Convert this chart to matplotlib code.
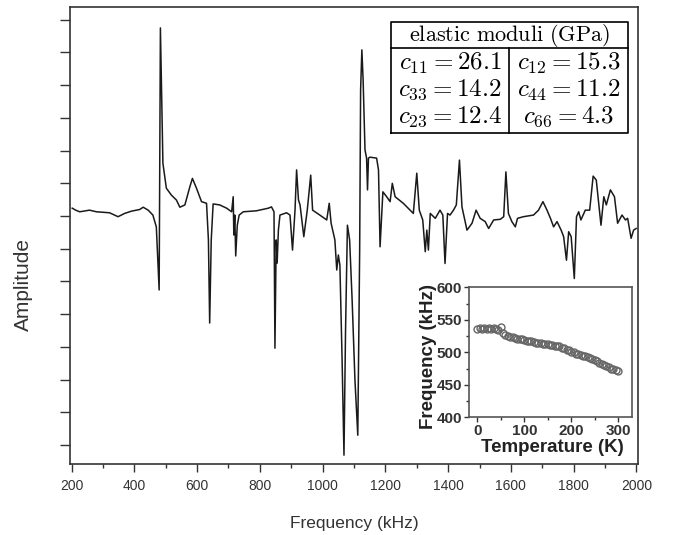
import matplotlib
matplotlib.use('Agg')
import matplotlib.pyplot as plt
from matplotlib.ticker import MultipleLocator, NullFormatter

plt.rcParams['font.family'] = ['Liberation Sans', 'DejaVu Sans']
plt.rcParams['mathtext.fontset'] = 'cm'

# spectrum (kHz, arbitrary amplitude)
freq = [202, 213, 226, 257, 279, 321, 348, 369, 391, 417, 428, 444, 459, 470, 479, 483,
        491, 502, 518, 534, 545, 561, 577, 585, 598, 614, 630, 636, 640, 645, 651, 672,
        694, 710, 715, 717, 720, 723, 728, 734, 747, 789, 827, 837, 845, 848, 852, 855,
        859, 864, 885, 896, 904, 912, 917, 923, 928, 940, 951, 962, 968, 991, 1013, 1021,
        1027, 1039, 1045, 1050, 1055, 1062, 1068, 1073, 1079, 1086, 1094, 1103, 1112, 1118,
        1121, 1125, 1129, 1135, 1140, 1143, 1146, 1151, 1172, 1178, 1183, 1192, 1204, 1215,
        1222, 1231, 1257, 1279, 1289, 1300, 1308, 1319, 1327, 1332, 1337, 1343, 1359, 1374,
        1383, 1390, 1398, 1406, 1417, 1426, 1436, 1444, 1460, 1476, 1489, 1502, 1518, 1529,
        1545, 1566, 1577, 1584, 1592, 1603, 1614, 1621, 1640, 1672, 1688, 1702, 1715, 1726,
        1736, 1747, 1760, 1768, 1777, 1784, 1792, 1802, 1809, 1816, 1823, 1837, 1851, 1862,
        1872, 1887, 1896, 1904, 1917, 1930, 1940, 1954, 1965, 1972, 1983, 1991, 1999]
amp = [0.24, 0.18, 0.13, 0.18, 0.13, 0.10, -0.02, 0.08, 0.15, 0.20, 0.27, 0.18, 0.03, -0.33, -2.26, 5.75,
       1.61, 0.85, 0.64, 0.49, 0.27, 0.34, 0.90, 1.15, 0.85, 0.44, 0.39, -0.73, -3.27, -0.73, 0.37, 0.34,
       0.24, 0.13, 0.59, -0.58, 0.03, -1.22, -0.28, 0.03, 0.13, 0.16, 0.24, 0.28, 0.13, -4.04, -0.73, -1.44,
       -0.43, 0.03, 0.10, 0.03, -1.04, 0.18, 1.41, 0.49, 0.34, -0.63, 0.18, 1.25, 0.18, 0.03, -0.12, 0.39,
       -0.22, -0.73, -1.65, -1.19, -1.50, -4.40, -7.31, -3.49, -0.28, -0.73, -2.57, -5.02, -6.70, -1.04,
       3.85, 5.08, 4.16, 2.02, 1.77, 0.80, 1.77, 1.80, 1.77, 1.41, -0.94, 0.74, 0.59, 0.44,
       1.00, 0.59, 0.39, 0.18, 0.08, 1.31, 0.18, -0.12, -1.09, -0.43, -1.04, 0.08, -0.07, 0.18,
       0.03, -1.45, 0.08, 0.03, 0.18, 0.34, 1.71, 0.28, -0.43, -0.22, 0.18, -0.07, -0.17, -0.38,
       -0.12, -0.10, -0.02, 1.35, 0.08, -0.17, -0.33, -0.07, -0.02, 0.03, 0.18, 0.44, 0.18, -0.07,
       -0.33, -0.17, -0.43, -0.63, -1.35, -0.48, -0.63, -1.91, -0.02, 0.13, -0.12, 0.18, 0.18, 1.22,
       1.10, -0.28, 0.59, 0.34, 0.80, 0.59, -0.22, 0.03, -0.12, -0.07, -0.68, -0.43, -0.38]

# inset: resonance frequency vs temperature
temp = [0, 5, 10, 15, 20, 25, 30, 35, 40, 45, 50, 55, 60, 65, 70, 75, 80, 85, 90, 95, 100,
        105, 110, 115, 120, 125, 130, 135, 140, 145, 150, 155, 160, 165, 170, 175, 180, 185,
        190, 195, 200, 205, 210, 215, 220, 225, 230, 235, 240, 245, 250, 255, 260, 265, 270,
        275, 280, 285, 290, 295, 300]
res = [536, 537, 536, 537, 536, 537, 536, 537, 536, 535, 539, 530, 527, 525, 524, 523, 522,
       521, 520, 520, 519, 518, 517, 517, 516, 515, 515, 514, 513, 512, 512, 511, 511, 510,
       509, 509, 507, 506, 504, 503, 501, 500, 498, 497, 496, 495, 494, 492, 491, 489, 488,
       486, 484, 482, 481, 479, 477, 475, 474, 472, 471]

moduli_left = [r'$c_{11} = 26.1$', r'$c_{33} = 14.2$', r'$c_{23} = 12.4$']
moduli_right = [r'$c_{12} = 15.3$', r'$c_{44} = 11.2$', r'$c_{66} = 4.3$']

fig = plt.figure(figsize=(6.74, 5.35), dpi=100)
ax = fig.add_axes([0.1039, 0.1327, 0.8427, 0.8542])

ax.plot(freq, amp, color='#1a1a1a', lw=1.1)
ax.set_xlim(195, 2005)
ax.set_ylim(-7.58, 6.39)

ax.xaxis.set_major_locator(MultipleLocator(200))
ax.xaxis.set_minor_locator(MultipleLocator(100))
ax.yaxis.set_major_locator(MultipleLocator(1))
ax.yaxis.set_major_formatter(NullFormatter())
ax.tick_params(axis='x', which='major', length=6, width=1, colors='#333333', labelsize=10, pad=5)
ax.tick_params(axis='x', which='minor', length=3, width=1, colors='#333333')
ax.tick_params(axis='y', which='major', length=7, width=1, colors='#333333')
for s in ax.spines.values():
    s.set_color('#333333')
    s.set_linewidth(1.2)

ax.set_xlabel('Frequency (kHz)', fontsize=12.5, color='#333333', labelpad=16)
ax.set_ylabel('Amplitude', fontsize=15, color='#333333')
ax.yaxis.set_label_coords(-0.066, 0.392)

# elastic moduli table
x0, x1, xm = 0.5646, 0.9829, 0.7734
y0, y1, yh = 0.7236, 0.9678, 0.9096
kw = dict(transform=ax.transAxes, color='black', lw=1.2)
ax.plot([x0, x1, x1, x0, x0], [y0, y0, y1, y1, y0], **kw)
ax.plot([x0, x1], [yh, yh], **kw)
ax.plot([xm, xm], [y0, yh], **kw)
ax.text((x0 + x1) / 2, 0.9387, r'$\mathrm{elastic\ moduli\ (GPa)}$', transform=ax.transAxes,
        ha='center', va='center', fontsize=16)
rows_y = [0.8775, 0.8184, 0.7593]
for yy, tl, tr in zip(rows_y, moduli_left, moduli_right):
    ax.text((x0 + xm) / 2, yy, tl, transform=ax.transAxes, ha='center', va='center', fontsize=18)
    ax.text((xm + x1) / 2, yy, tr, transform=ax.transAxes, ha='center', va='center', fontsize=18)

# inset
ins = fig.add_axes([0.6963, 0.22, 0.2418, 0.243])
ins.plot(temp, res, 'o', ms=5, mfc='none', mec='#666666', mew=1.0)
ins.set_xlim(-17, 330)
ins.set_ylim(400, 600)
ins.xaxis.set_major_locator(MultipleLocator(100))
ins.xaxis.set_minor_locator(MultipleLocator(50))
ins.yaxis.set_major_locator(MultipleLocator(50))
ins.yaxis.set_minor_locator(MultipleLocator(25))
ins.tick_params(which='major', length=3.5, width=1, colors='#333333', labelsize=11, pad=1.5)
ins.tick_params(which='minor', length=2, width=1, colors='#333333')
for lab in ins.get_xticklabels() + ins.get_yticklabels():
    lab.set_fontweight('bold')
for s in ins.spines.values():
    s.set_color('#555555')
    s.set_linewidth(1.2)
ins.set_xlabel('Temperature (K)', fontsize=13.5, fontweight='bold', color='#222222')
ins.set_ylabel('Frequency (kHz)', fontsize=13.5, fontweight='bold', color='#222222')
ins.xaxis.set_label_coords(0.507, -0.17)
ins.yaxis.set_label_coords(-0.2, 0.47)

fig.savefig('out.png', dpi=100)
